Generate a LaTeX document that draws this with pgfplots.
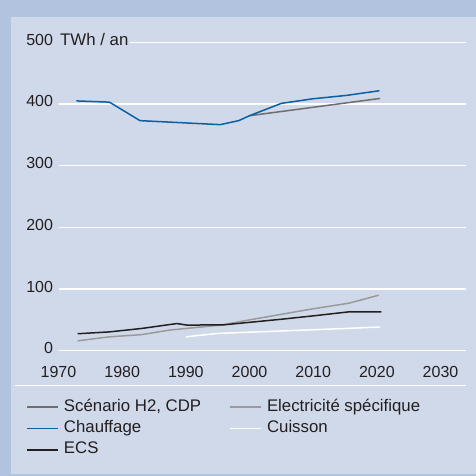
\documentclass[border=0pt]{standalone}
\usepackage{pgfplots}
\pgfplotsset{compat=1.18}
\usepackage{fontspec}
\setmainfont{Liberation Sans}
\definecolor{outerbg}{HTML}{B1C3DE}
\definecolor{innerbg}{HTML}{D0D9EA}
\definecolor{chauf}{HTML}{0B5FA5}
\definecolor{scen}{HTML}{6E6E6E}
\definecolor{elec}{HTML}{9A9A9A}
\definecolor{ecs}{HTML}{231F20}
\definecolor{textc}{HTML}{231F20}
\newcommand{\lbl}{\fontsize{16}{19}\selectfont}
\newcommand{\txt}{\fontsize{16.8}{20}\selectfont}
\begin{document}
\lbl
\begin{tikzpicture}[x=1pt,y=1pt]
\fill[outerbg] (0,0) rectangle (476,-476);
\fill[innerbg] (11,-17) rectangle (476,-474);
\draw[white, line width=1.5pt] (15,-385.7) -- (466,-385.7);
\begin{axis}[
  at={(58.5pt,-350.7pt)}, anchor=south west,
  scale only axis, width=407.5pt, height=308.4pt,
  xmin=1970, xmax=2034, ymin=0, ymax=500,
  xtick={1970,1980,...,2030}, ytick={0,100,...,500},
  axis line style={draw=none}, tick style={draw=none},
  major tick length=0pt,
  ymajorgrids, grid style={white, line width=1.5pt},
  /pgf/number format/assume math mode=true,
  /pgf/number format/1000 sep={},
  tick label style={font=\lbl, text=textc},
  yticklabel style={yshift=2.5pt},
  xticklabel style={yshift=-10pt},
  clip=false,
  legend columns=2,
  legend cell align=left,
  legend image code/.code={\draw[#1] (0pt,0pt) -- (31pt,0pt); \path (36pt,0pt);},
  legend style={at={(axis description cs:-0.0798,-0.1566)}, anchor=north west,
    draw=none, fill=none, font=\txt, text=textc, inner sep=0pt,
    nodes={inner sep=0pt, text height=12pt, text depth=4pt},
    row sep=5.3pt,
    /tikz/every even column/.append style={column sep=28pt}},
  every axis plot/.append style={line width=1.5pt},
]
\addlegendimage{scen, line width=1.8pt}
\addlegendentry{Scénario H2, CDP}
\addlegendimage{elec, line width=1.8pt}
\addlegendentry{Electricité spécifique}
\addlegendimage{chauf, line width=1.8pt}
\addlegendentry{Chauffage}
\addlegendimage{white, line width=1.8pt}
\addlegendentry{Cuisson}
\addlegendimage{ecs, line width=1.8pt}
\addlegendentry{ECS}

\addplot[scen, forget plot] coordinates {(2000,381) (2020.5,409)};
\addplot[chauf, forget plot] coordinates {(1972.8,405) (1978,403) (1982.8,373) (1995.4,366.5) (1998.3,373) (2000,381) (2005,401) (2010,408.5) (2015.3,414) (2020.4,421.5)};
\addplot[white, forget plot] coordinates {(1990,22.5) (1995,28) (2000,30) (2005,32) (2010,34) (2015,36) (2020.5,38.5)};
\addplot[elec, forget plot] coordinates {(1973,16) (1978,22.5) (1983,26) (1987.5,33.5) (1995.5,41.5) (2000,50) (2005,59) (2010,68) (2015.6,77) (2020.3,90)};
\addplot[ecs, forget plot] coordinates {(1973,27.5) (1978,30.5) (1983,36) (1988.6,44) (1990.2,41.5) (1996,42) (2000,46) (2005,51) (2010,56.5) (2015.6,63) (2020.7,63)};

\node[anchor=west, fill=innerbg, inner xsep=1.5pt, inner ysep=2pt, text=textc, font=\txt, yshift=2.5pt] at (axis cs:1970,500) {TWh / an\hspace{4pt}};
\end{axis}
\end{tikzpicture}
\end{document}
